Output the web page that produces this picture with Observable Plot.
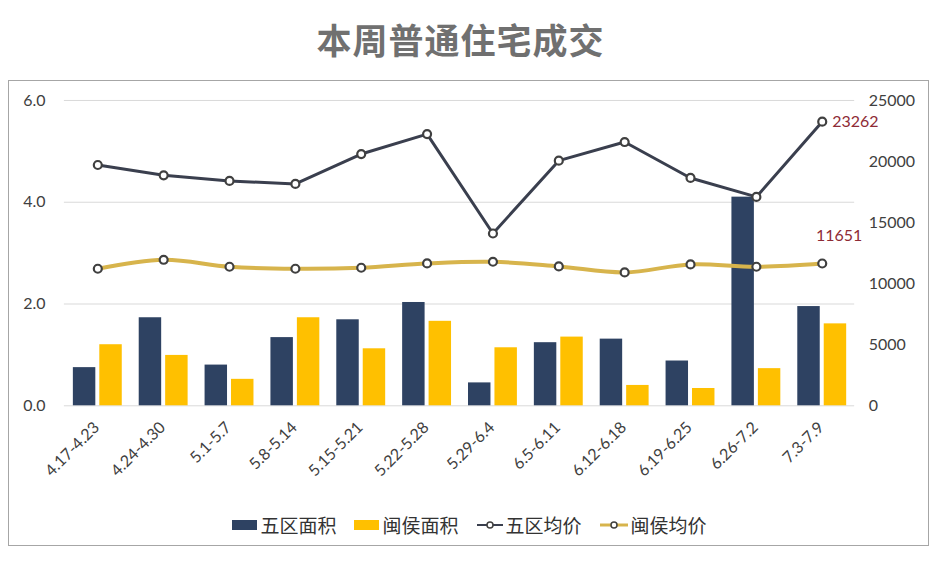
<!DOCTYPE html>
<html>
<head>
<meta charset="utf-8">
<script src="https://cdn.jsdelivr.net/npm/d3@7"></script>
<script src="https://cdn.jsdelivr.net/npm/@observablehq/plot@0.6"></script>
<style>
  html, body { margin: 0; padding: 0; background: #fff; width: 938px; height: 561px; overflow: hidden; }
  #title { position: absolute; left: 0; top: 0; width: 921px; height: 78px; line-height: 78px; text-align: center;
    font-family: "Noto Sans CJK SC", sans-serif; font-weight: 700; font-size: 35px; color: #707070; letter-spacing: 1px; }
  #box { position: absolute; left: 8px; top: 80px; width: 921px; height: 466px; border: 1.5px solid #a6a6a6; box-sizing: border-box; }
  #chart { position: absolute; left: 0; top: 0; }
  #legend { position: absolute; left: 0; top: 430px; width: 921px; display: flex; justify-content: center; align-items: center;
    font-family: "Noto Sans CJK SC", sans-serif; font-size: 19px; color: #333; }
  .item { display: flex; align-items: center; margin: 0 9px; }
  .item svg { margin-right: 3px; }
</style>
</head>
<body>
<div id="title">本周普通住宅成交</div>
<div id="box">
  <div id="chart"></div>
  <div id="legend"></div>
</div>
<script>
const weeks = ["4.17-4.23","4.24-4.30","5.1-5.7","5.8-5.14","5.15-5.21","5.22-5.28","5.29-6.4","6.5-6.11","6.12-6.18","6.19-6.25","6.26-7.2","7.3-7.9"];
const wuquArea = [0.75,1.73,0.80,1.34,1.69,2.03,0.45,1.24,1.31,0.88,4.10,1.95];
const minhouArea = [1.20,0.99,0.52,1.73,1.12,1.66,1.14,1.35,0.40,0.34,0.73,1.61];
const wuquPrice = [19714,18873,18410,18165,20613,22248,14107,20070,21596,18655,17103,23262];
const minhouPrice = [11220,11955,11384,11220,11302,11656,11792,11411,10923,11574,11384,11651];
const leftTicks = [0,2,4,6];
const rightTicks = [0,5000,10000,15000,20000,25000];
const seriesNames = ["五区面积","闽侯面积","五区均价","闽侯均价"];

const LEFT_MAX = 6, RIGHT_MAX = 25000;
const toLeft = v => v * LEFT_MAX / RIGHT_MAX;

const rows = weeks.map((w, i) => ({week: w, wa: wuquArea[i], ma: minhouArea[i], wp: wuquPrice[i], mp: minhouPrice[i]}));
const last = [rows[rows.length - 1]];

const cNavy = "#2E4262", cYellow = "#FFC000", cLine = "#3A3F4E", cGold = "#D7B44C", cLabel = "#8E2B35";

const chart = Plot.plot({
  width: 921, height: 410,
  marginLeft: 55, marginRight: 74, marginTop: 19, marginBottom: 85,
  style: {fontFamily: "Lato, 'Noto Sans', sans-serif", fontSize: "16px", color: "#404040", background: "transparent"},
  x: {domain: weeks, paddingInner: 0.26, paddingOuter: 0.13, axis: null},
  y: {domain: [0, LEFT_MAX], axis: null},
  marks: [
    Plot.ruleY(leftTicks, {stroke: "#d9d9d9", strokeWidth: 1}),
    Plot.axisY(leftTicks, {anchor: "left", tickSize: 0, tickPadding: 19, fontSize: 16, fill: "#404040", tickFormat: d => d.toFixed(1), label: null}),
    Plot.axisY(rightTicks.map(toLeft), {anchor: "right", tickSize: 0, tickPadding: 14, fontSize: 16, fill: "#404040", tickFormat: d => String(Math.round(d * RIGHT_MAX / LEFT_MAX)), label: null}),
    Plot.axisX({tickRotate: -45, tickSize: 0, tickPadding: 19, dx: -1, fontSize: 16, fill: "#404040", label: null}),
    Plot.barY(rows, {x: "week", y: "wa", fill: cNavy, insetRight: 26.5}),
    Plot.barY(rows, {x: "week", y: "ma", fill: cYellow, insetLeft: 26.5}),
    Plot.line(rows, {x: "week", y: d => toLeft(d.mp), stroke: cGold, strokeWidth: 4, curve: "catmull-rom"}),
    Plot.line(rows, {x: "week", y: d => toLeft(d.wp), stroke: cLine, strokeWidth: 3}),
    Plot.dot(rows, {x: "week", y: d => toLeft(d.mp), r: 4, fill: "#fff", stroke: "#404040", strokeWidth: 2.2}),
    Plot.dot(rows, {x: "week", y: d => toLeft(d.wp), r: 4, fill: "#fff", stroke: "#404040", strokeWidth: 2.2}),
    Plot.text(last, {x: "week", y: d => toLeft(d.wp), text: d => String(d.wp), dx: 10, textAnchor: "start", fill: cLabel, fontSize: 16}),
    Plot.text(last, {x: "week", y: d => toLeft(d.mp), text: d => String(d.mp), dx: 17, dy: -28, textAnchor: "middle", fill: cLabel, fontSize: 16})
  ]
});
document.getElementById("chart").appendChild(chart);

// Legend
const legend = document.getElementById("legend");
const swatches = [
  `<svg width="25" height="12"><rect x="0" y="1" width="25" height="10" fill="${cNavy}"/></svg>`,
  `<svg width="25" height="12"><rect x="0" y="1" width="25" height="10" fill="${cYellow}"/></svg>`,
  `<svg width="26" height="12"><line x1="0" y1="6" x2="26" y2="6" stroke="${cLine}" stroke-width="2"/><circle cx="13" cy="6" r="3" fill="#fff" stroke="#404040" stroke-width="1.5"/></svg>`,
  `<svg width="28" height="12"><line x1="0" y1="6" x2="28" y2="6" stroke="${cGold}" stroke-width="3"/><circle cx="14" cy="6" r="3" fill="#fff" stroke="#404040" stroke-width="1.5"/></svg>`
];
seriesNames.forEach((name, i) => {
  const el = document.createElement("div");
  el.className = "item";
  el.innerHTML = swatches[i] + `<span>${name}</span>`;
  legend.appendChild(el);
});
</script>
</body>
</html>
